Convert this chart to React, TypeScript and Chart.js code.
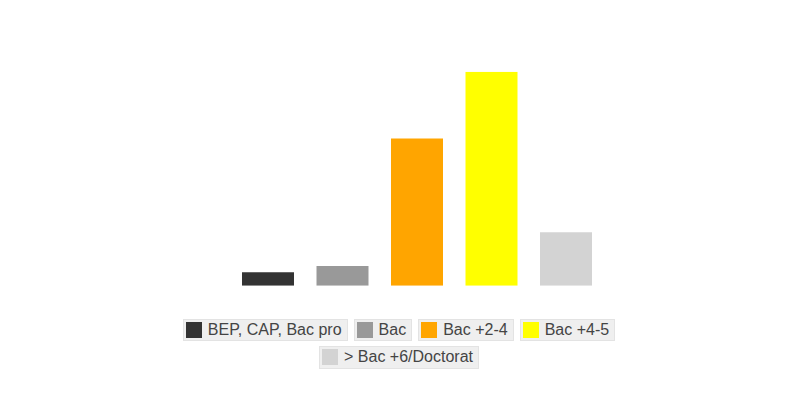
import React, { useEffect, useRef } from "react";
import { Chart, registerables } from "chart.js";

Chart.register(...registerables);

const categories = ["BEP, CAP, Bac pro", "Bac", "Bac +2-4", "Bac +4-5", "> Bac +6/Doctorat"];
const values = [3, 4.4, 33, 48, 12];
const colors = ["#333333", "#999999", "#FFA500", "#FFFF00", "#D3D3D3"];
const yMax = 48;

export default function App() {
  const canvasRef = useRef<HTMLCanvasElement | null>(null);

  useEffect(() => {
    const prevMargin = document.body.style.margin;
    document.body.style.margin = "0";
    const canvas = canvasRef.current;
    if (!canvas) return;
    const chart = new Chart(canvas, {
      type: "bar",
      data: {
        labels: [""],
        datasets: categories.map((c, i) => ({
          label: c,
          data: [values[i]],
          backgroundColor: colors[i],
          borderWidth: 0,
          categoryPercentage: 1,
          barPercentage: 0.698,
        })),
      },
      options: {
        animation: false,
        responsive: true,
        maintainAspectRatio: false,
        layout: { padding: { left: 230.75, right: 194.75, top: 71.7, bottom: 14.3 } },
        plugins: { legend: { display: false }, tooltip: { enabled: false }, title: { display: false } },
        scales: {
          x: { display: false },
          y: { display: false, min: 0, max: yMax },
        },
      },
    });
    return () => {
      chart.destroy();
      document.body.style.margin = prevMargin;
    };
  }, []);

  return (
    <div style={{ position: "absolute", left: 0, top: 0, width: 798, height: 395, background: "#fff" }}>
      <div style={{ position: "absolute", left: 0, top: 0, width: 798, height: 300 }}>
        <canvas ref={canvasRef} />
      </div>
      <div
        style={{
          position: "absolute",
          left: 164,
          top: 318.7,
          width: 470,
          display: "flex",
          flexWrap: "wrap",
          justifyContent: "center",
          columnGap: 6,
          rowGap: 4.7,
          fontFamily: "'Liberation Sans', Arial, sans-serif",
          fontSize: 16,
          color: "#444",
        }}
      >
        {categories.map((c, i) => (
          <div
            key={c}
            style={{
              boxSizing: "border-box",
              height: 22.6,
              display: "flex",
              alignItems: "center",
              background: "#efefef",
              border: "1px solid #e3e3e3",
              paddingLeft: 2,
              paddingRight: 5,
              whiteSpace: "nowrap",
            }}
          >
            <span style={{ display: "inline-block", width: 16, height: 16, background: colors[i], marginRight: 6 }} />
            <span>{c}</span>
          </div>
        ))}
      </div>
    </div>
  );
}
